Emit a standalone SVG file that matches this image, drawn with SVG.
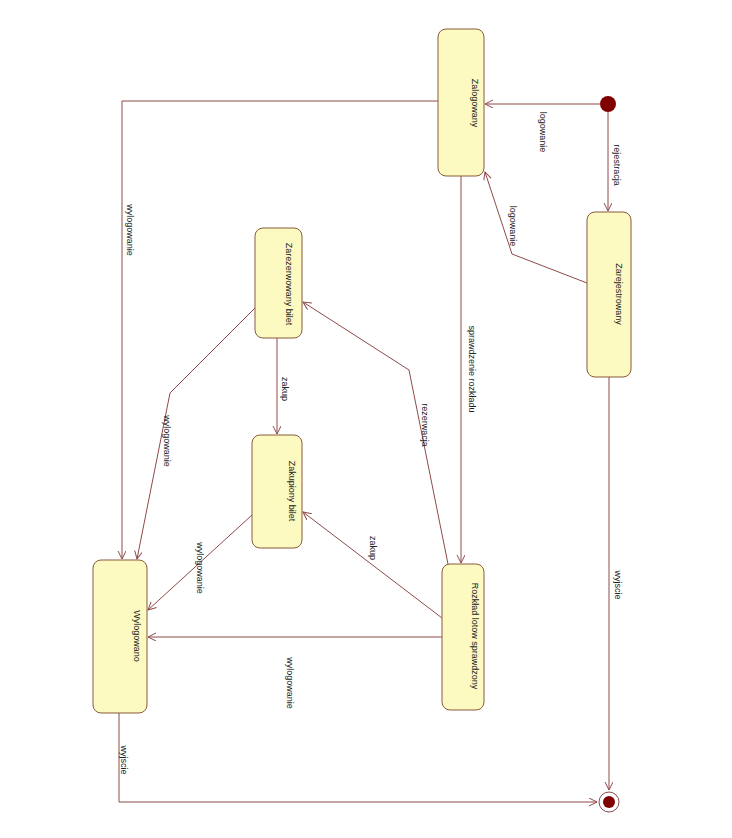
<svg xmlns="http://www.w3.org/2000/svg" width="732" height="838" viewBox="0 0 732 838">
<style>
.st{fill:#fcfac0;stroke:#8a5a3c;stroke-width:1}
.ln{fill:none;stroke:#8e4a4a;stroke-width:1}
.t{font-family:"Liberation Sans",Arial,sans-serif;font-size:9px;fill:#222;text-anchor:middle;dominant-baseline:central}
</style>
<defs>
<marker id="ah" markerWidth="10" markerHeight="10" refX="8" refY="4" orient="auto" markerUnits="userSpaceOnUse">
<path d="M0,0 L8,4 L0,8" fill="none" stroke="#8e4a4a" stroke-width="1"/>
</marker>
</defs>
<rect width="732" height="838" fill="#fff"/>
<g id="connectors">
<path class="ln" d="M600,104 L485,104" marker-end="url(#ah)"/>
<path class="ln" d="M608,112 L608,211" marker-end="url(#ah)"/>
<path class="ln" d="M587,283 L512,254 L485,172" marker-end="url(#ah)"/>
<path class="ln" d="M438,101 L122,101 L122,559" marker-end="url(#ah)"/>
<path class="ln" d="M461,176 L461,563" marker-end="url(#ah)"/>
<path class="ln" d="M448,564 L409,370 L303,302" marker-end="url(#ah)"/>
<path class="ln" d="M277,338 L277,434" marker-end="url(#ah)"/>
<path class="ln" d="M442,618 L303,512" marker-end="url(#ah)"/>
<path class="ln" d="M255,308 L170,393 L137,559" marker-end="url(#ah)"/>
<path class="ln" d="M252,515 L148,610" marker-end="url(#ah)"/>
<path class="ln" d="M442,637 L148,637" marker-end="url(#ah)"/>
<path class="ln" d="M609,377 L609,790" marker-end="url(#ah)"/>
<path class="ln" d="M119,713 L119,802 L597,802" marker-end="url(#ah)"/>
<text class="t" transform="rotate(90 543 132)" x="543" y="132">logowanie</text>
<text class="t" transform="rotate(90 617 165)" x="617" y="165">rejestracja</text>
<text class="t" transform="rotate(90 513 226)" x="513" y="226">logowanie</text>
<text class="t" transform="rotate(90 130 230)" x="130" y="230">wylogowanie</text>
<text class="t" transform="rotate(90 472 369)" x="472" y="369">sprawdzenie rozkładu</text>
<text class="t" transform="rotate(90 425 425)" x="425" y="425">rezerwacja</text>
<text class="t" transform="rotate(90 285 389)" x="285" y="389">zakup</text>
<text class="t" transform="rotate(90 373 548)" x="373" y="548">zakup</text>
<text class="t" transform="rotate(90 167 441)" x="167" y="441">wylogowanie</text>
<text class="t" transform="rotate(90 200 568)" x="200" y="568">wylogowanie</text>
<text class="t" transform="rotate(90 290 683)" x="290" y="683">wylogowanie</text>
<text class="t" transform="rotate(90 618 585)" x="618" y="585">wyjscie</text>
<text class="t" transform="rotate(90 124 760)" x="124" y="760">wyjscie</text>
</g>
<g id="initial"><circle cx="608" cy="104" r="8" fill="#800000"/></g>
<g id="final"><circle cx="609" cy="802" r="10" fill="#fff" stroke="#8e4a4a" stroke-width="1"/><circle cx="609" cy="802" r="6" fill="#800000"/></g>
<g id="zalogowany"><rect class="st" x="438" y="29" width="46" height="147" rx="8"/><text class="t" transform="rotate(90 475 103)" x="475" y="103">Zalogowany</text></g>
<g id="zarejestrowany"><rect class="st" x="587" y="212" width="44" height="165" rx="8"/><text class="t" transform="rotate(90 619 294)" x="619" y="294">Zarejestrowany</text></g>
<g id="zarezerwowany"><rect class="st" x="255" y="228" width="47" height="110" rx="8"/><text class="t" transform="rotate(90 289 284)" x="289" y="284">Zarezerwowany bilet</text></g>
<g id="zakupiony"><rect class="st" x="252" y="435" width="50" height="113" rx="8"/><text class="t" transform="rotate(90 292 491)" x="292" y="491">Zakupiony bilet</text></g>
<g id="rozklad"><rect class="st" x="442" y="564" width="42" height="146" rx="8"/><text class="t" transform="rotate(90 475 636)" x="475" y="636">Rozkład lotow sprawdzony</text></g>
<g id="wylogowano"><rect class="st" x="93" y="560" width="54" height="153" rx="8"/><text class="t" transform="rotate(90 137 636)" x="137" y="636">Wylogowano</text></g>
</svg>
